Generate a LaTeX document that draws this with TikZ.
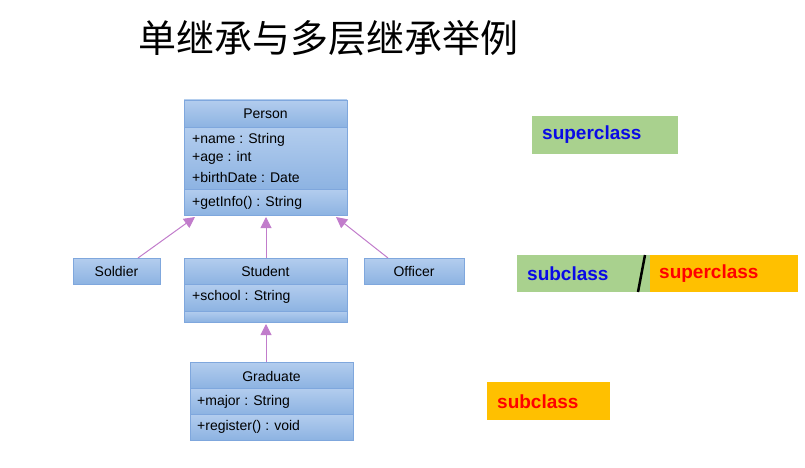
\documentclass[tikz,border=0pt]{standalone}
\usepackage{fontspec}
\setmainfont{Liberation Sans}
\newfontfamily\cjk{Noto Sans CJK SC}
\usetikzlibrary{arrows.meta}
\definecolor{bt}{HTML}{B3CDEE}
\definecolor{bb}{HTML}{8DB3E2}
\definecolor{bd}{HTML}{7FA7DD}
\definecolor{arr}{HTML}{C17CCB}
\definecolor{gr}{HTML}{A9D18E}
\definecolor{og}{HTML}{FFC000}
\definecolor{bl}{HTML}{0A0AE6}
\begin{document}
\begin{tikzpicture}[x=1pt,y=-1pt,
  cell/.style={draw=bd,line width=0.8pt,top color=bt,bottom color=bb},
  lbl/.style={font=\fontsize{14}{16}\selectfont,inner sep=0pt},
  inh/.style={draw=arr,line width=1pt,-{Triangle[length=11pt,width=11pt,fill=arr]}},
  tag/.style={inner sep=0pt,font=\fontsize{19}{22}\selectfont\bfseries}]
\useasboundingbox (0,0) rectangle (805,468);
\node[font=\cjk\fontsize{38}{42}\selectfont,anchor=west,inner sep=0pt] (title) at (138,38) {单继承与多层继承举例};
% Person
\draw[cell] (184,100) rectangle (347,127);
\draw[cell] (184,127) rectangle (347,189);
\draw[cell] (184,189) rectangle (347,215);
\node[lbl] (pn) at (265.5,114) {Person};
\node[lbl,anchor=west] at (192,140) {+name : String};
\node[lbl,anchor=west] at (192,158) {+age : int};
\node[lbl,anchor=west] at (192,177) {+birthDate : Date};
\node[lbl,anchor=west] at (192,203) {+getInfo() : String};
\coordinate (pl) at (195,217);
\coordinate (pc) at (266,217);
\coordinate (pr) at (336,217);
% Soldier
\draw[cell] (73,258) rectangle (160,284);
\node[lbl] (sol) at (116.5,271) {Soldier};
\coordinate (solt) at (138,258);
% Officer
\draw[cell] (364,258) rectangle (464,284);
\node[lbl] (off) at (414,271) {Officer};
\coordinate (offt) at (388,258);
% Student
\draw[cell] (184,258) rectangle (347,284);
\draw[cell] (184,284) rectangle (347,311);
\draw[cell] (184,311) rectangle (347,322);
\node[lbl] (stu) at (265.5,271) {Student};
\node[lbl,anchor=west] at (192,297) {+school : String};
\coordinate (stut) at (266,258);
\coordinate (stub) at (266,324);
% Graduate
\draw[cell] (190,362) rectangle (353,388);
\draw[cell] (190,388) rectangle (353,414);
\draw[cell] (190,414) rectangle (353,440);
\node[lbl] (gra) at (271.5,376) {Graduate};
\node[lbl,anchor=west] at (197,402) {+major : String};
\node[lbl,anchor=west] at (197,427) {+register() : void};
\coordinate (grat) at (266,362);
% arrows
\draw[inh] (solt) -- (pl);
\draw[inh] (stut) -- (pc);
\draw[inh] (offt) -- (pr);
\draw[inh] (grat) -- (stub);
% tags
\fill[gr] (532,116) rectangle (678,154);
\node[tag,text=bl,anchor=west] (t1) at (542,135) {superclass};
\fill[gr] (517,255) rectangle (650,292);
\fill[og] (650,255) rectangle (798,292);
\node[tag,text=bl,anchor=west] (t2) at (527,274) {subclass};
\node[tag,text=red,anchor=west] (t3) at (659,274) {superclass};
\draw[line width=2.5pt] (645,255) -- (638,292);
\fill[og] (487,382) rectangle (610,420);
\node[tag,text=red,anchor=west] (t4) at (497,402) {subclass};
\end{tikzpicture}
\end{document}
